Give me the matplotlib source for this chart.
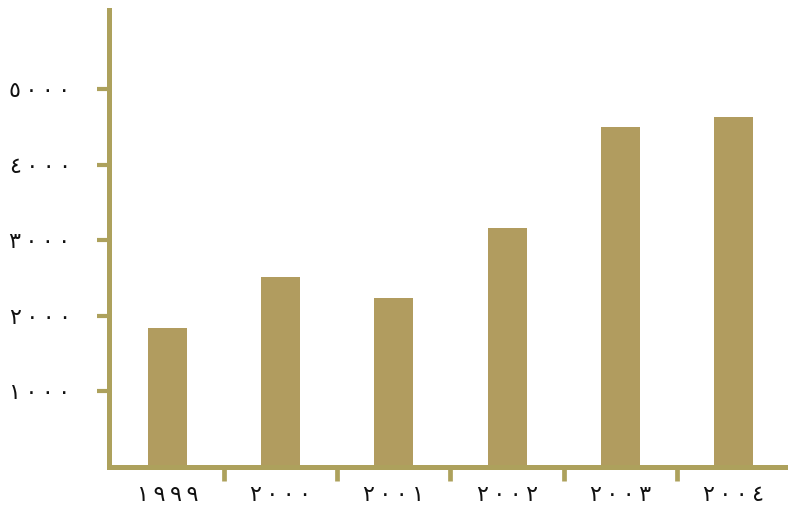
import matplotlib
matplotlib.use("Agg")
import matplotlib.pyplot as plt
import numpy as np

# Yearly values
years = ["١٩٩٩", "٢٠٠٠", "٢٠٠١", "٢٠٠٢", "٢٠٠٣", "٢٠٠٤"]
values = [1830, 2510, 2230, 3160, 4500, 4630]
y_ticks = [1000, 2000, 3000, 4000, 5000]
y_tick_labels = ["١٠٠٠", "٢٠٠٠", "٣٠٠٠", "٤٠٠٠", "٥٠٠٠"]

bar_color = "#B19C5F"
axis_color = "#ADA15C"
label_color = "#111111"


def spaced(s):
    # open up the digits a little with thin spaces
    return "\u2009".join(s)


plt.rcParams["font.family"] = ["DejaVu Sans"]

fig = plt.figure(figsize=(7.91, 5.26), dpi=100)
ax = fig.add_axes([0.1384, 0.1131, 0.8536, 0.8679])

x = np.arange(len(years))
ax.bar(x, values, width=0.343, color=bar_color, zorder=1)

ax.set_xlim(-0.51, 5.45)
ax.set_ylim(0, 6050)

for side in ("top", "right"):
    ax.spines[side].set_visible(False)
for side in ("left", "bottom"):
    ax.spines[side].set_color(axis_color)
    ax.spines[side].set_linewidth(3.6)
    ax.spines[side].set_zorder(3)
    ax.spines[side].set_capstyle("projecting")

# Major x ticks sit between the bars; the year labels sit under each bar
ax.set_xticks(x[:-1] + 0.5)
ax.set_xticklabels([])
ax.set_xticks(x, minor=True)
ax.set_xticklabels([spaced(y) for y in years], minor=True, fontsize=16,
                   color=label_color)
ax.tick_params(axis="x", which="major", length=10, width=3.4, color=axis_color,
               direction="out")
ax.tick_params(axis="x", which="minor", length=0, pad=13)

ax.set_yticks(y_ticks)
ax.set_yticklabels([spaced(t) for t in y_tick_labels], fontsize=16,
                   color=label_color)
ax.tick_params(axis="y", length=9, width=3.0, color=axis_color, pad=19)

fig.savefig("out.png", dpi=100, facecolor="white")
